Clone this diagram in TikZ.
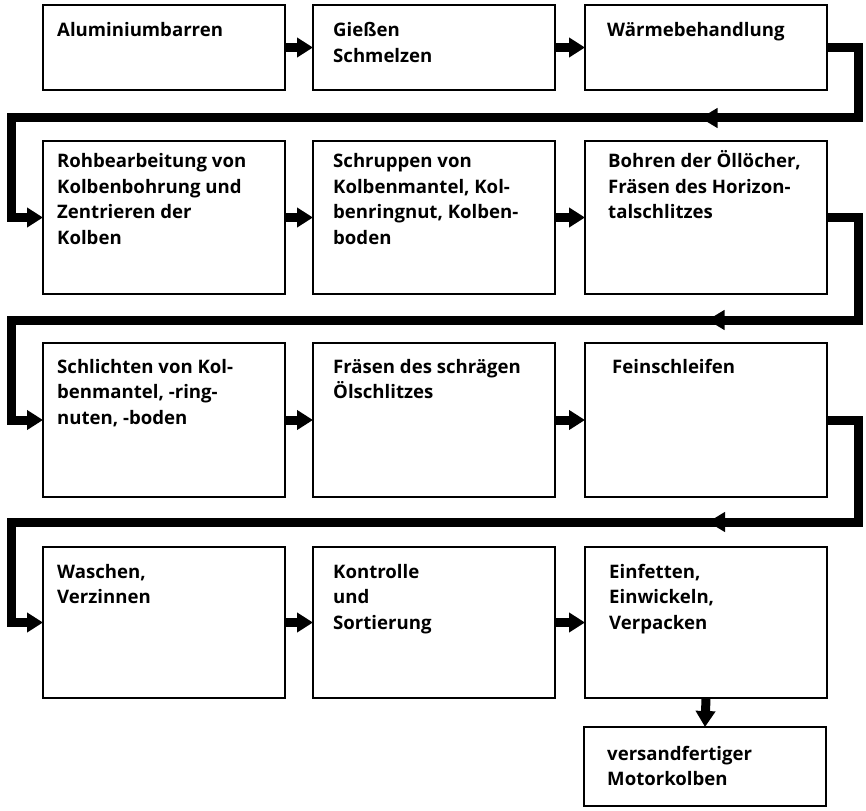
\documentclass[tikz,border=0pt]{standalone}
\usepackage{fontspec}
\setmainfont{Open Sans}
\usetikzlibrary{arrows.meta,decorations.markings}
\newcommand{\steplines}[1]{\begin{tabular}[t]{@{}l@{}}#1\end{tabular}}
\begin{document}
\begin{tikzpicture}[x=1pt,y=-1pt,
  stepbox/.style={draw, line width=2.5pt, inner sep=0pt, outer sep=0pt,
    anchor=north west, minimum width=242pt},
  steptext/.style={anchor=base west, inner sep=0pt,
    font=\bfseries\fontsize{18.6}{25.5}\selectfont},
  flow/.style={line width=9pt, -{Triangle[length=16pt,width=19pt]}},
  backflow/.style={line width=9pt, line join=miter,
    -{Triangle[length=16pt,width=19pt]},
    postaction={decorate},
    decoration={markings, mark=at position #1 with
      {\arrow{Triangle[length=17pt,width=19pt]}}}}]
\useasboundingbox (0,0) rectangle (866,810);

% boxes, row by row
\node[stepbox, minimum height=85pt]  (a1) at (43,5)  {};
\node[stepbox, minimum height=85pt]  (a2) at (313,5) {};
\node[stepbox, minimum height=85pt]  (a3) at (585,5) {};
\node[stepbox, minimum height=153pt] (b1) at (43,141)  {};
\node[stepbox, minimum height=153pt] (b2) at (313,141) {};
\node[stepbox, minimum height=153pt] (b3) at (585,141) {};
\node[stepbox, minimum height=154pt] (c1) at (43,343)  {};
\node[stepbox, minimum height=154pt] (c2) at (313,343) {};
\node[stepbox, minimum height=154pt] (c3) at (585,343) {};
\node[stepbox, minimum height=151pt] (d1) at (43,547)  {};
\node[stepbox, minimum height=151pt] (d2) at (313,547) {};
\node[stepbox, minimum height=151pt] (d3) at (585,547) {};
\node[stepbox, minimum height=79pt]  (e3) at (584,727) {};

% labels
\node[steptext] (ta1) at (57,37)  {Aluminiumbarren};
\node[steptext] (ta2) at (333,37) {\steplines{Gießen\\Schmelzen}};
\node[steptext] (ta3) at (607,37) {Wärmebehandlung};
\node[steptext] (tb1) at (57,168)  {\steplines{Rohbearbeitung von\\Kolbenbohrung und\\Zentrieren der\\Kolben}};
\node[steptext] (tb2) at (333,168) {\steplines{Schruppen von\\Kolbenmantel, Kol-\\benringnut, Kolben-\\boden}};
\node[steptext] (tb3) at (608,168) {\steplines{Bohren der Öllöcher,\\Fräsen des Horizon-\\talschlitzes}};
\node[steptext] (tc1) at (57,373)  {\steplines{Schlichten von Kol-\\benmantel, -ring-\\nuten, -boden}};
\node[steptext] (tc2) at (333,373) {\steplines{Fräsen des schrägen\\Ölschlitzes}};
\node[steptext] (tc3) at (612,373) {Feinschleifen};
\node[steptext] (td1) at (57,578)  {\steplines{Waschen,\\Verzinnen}};
\node[steptext] (td2) at (333,578) {\steplines{Kontrolle\\und\\Sortierung}};
\node[steptext] (td3) at (609,578) {\steplines{Einfetten,\\Einwickeln,\\Verpacken}};
\node[steptext] (te3) at (607,760) {\steplines{versandfertiger\\Motorkolben}};

% short arrows within a row
\draw[flow] (a1.east) -- (a2.west);
\draw[flow] (a2.east) -- (a3.west);
\draw[flow] (b1.east) -- (b2.west);
\draw[flow] (b2.east) -- (b3.west);
\draw[flow] (c1.east) -- (c2.west);
\draw[flow] (c2.east) -- (c3.west);
\draw[flow] (d1.east) -- (d2.west);
\draw[flow] (d2.east) -- (d3.west);
\draw[flow] (d3.south) -- (e3.north);

% return lines from the end of one row to the start of the next
\coordinate (r1R) at (858,118);
\coordinate (r1L) at (11,118);
\coordinate (r2R) at (858,320);
\coordinate (r2L) at (11,320);
\coordinate (r3R) at (858,522);
\coordinate (r3L) at (11,522);
\draw[backflow=259pt] (a3.east) -| (r1R) -- (r1L) |- (b1.west);
\draw[backflow=284pt] (b3.east) -| (r2R) -- (r2L) |- (c1.west);
\draw[backflow=283pt] (c3.east) -| (r3R) -- (r3L) |- (d1.west);
\end{tikzpicture}
\end{document}
